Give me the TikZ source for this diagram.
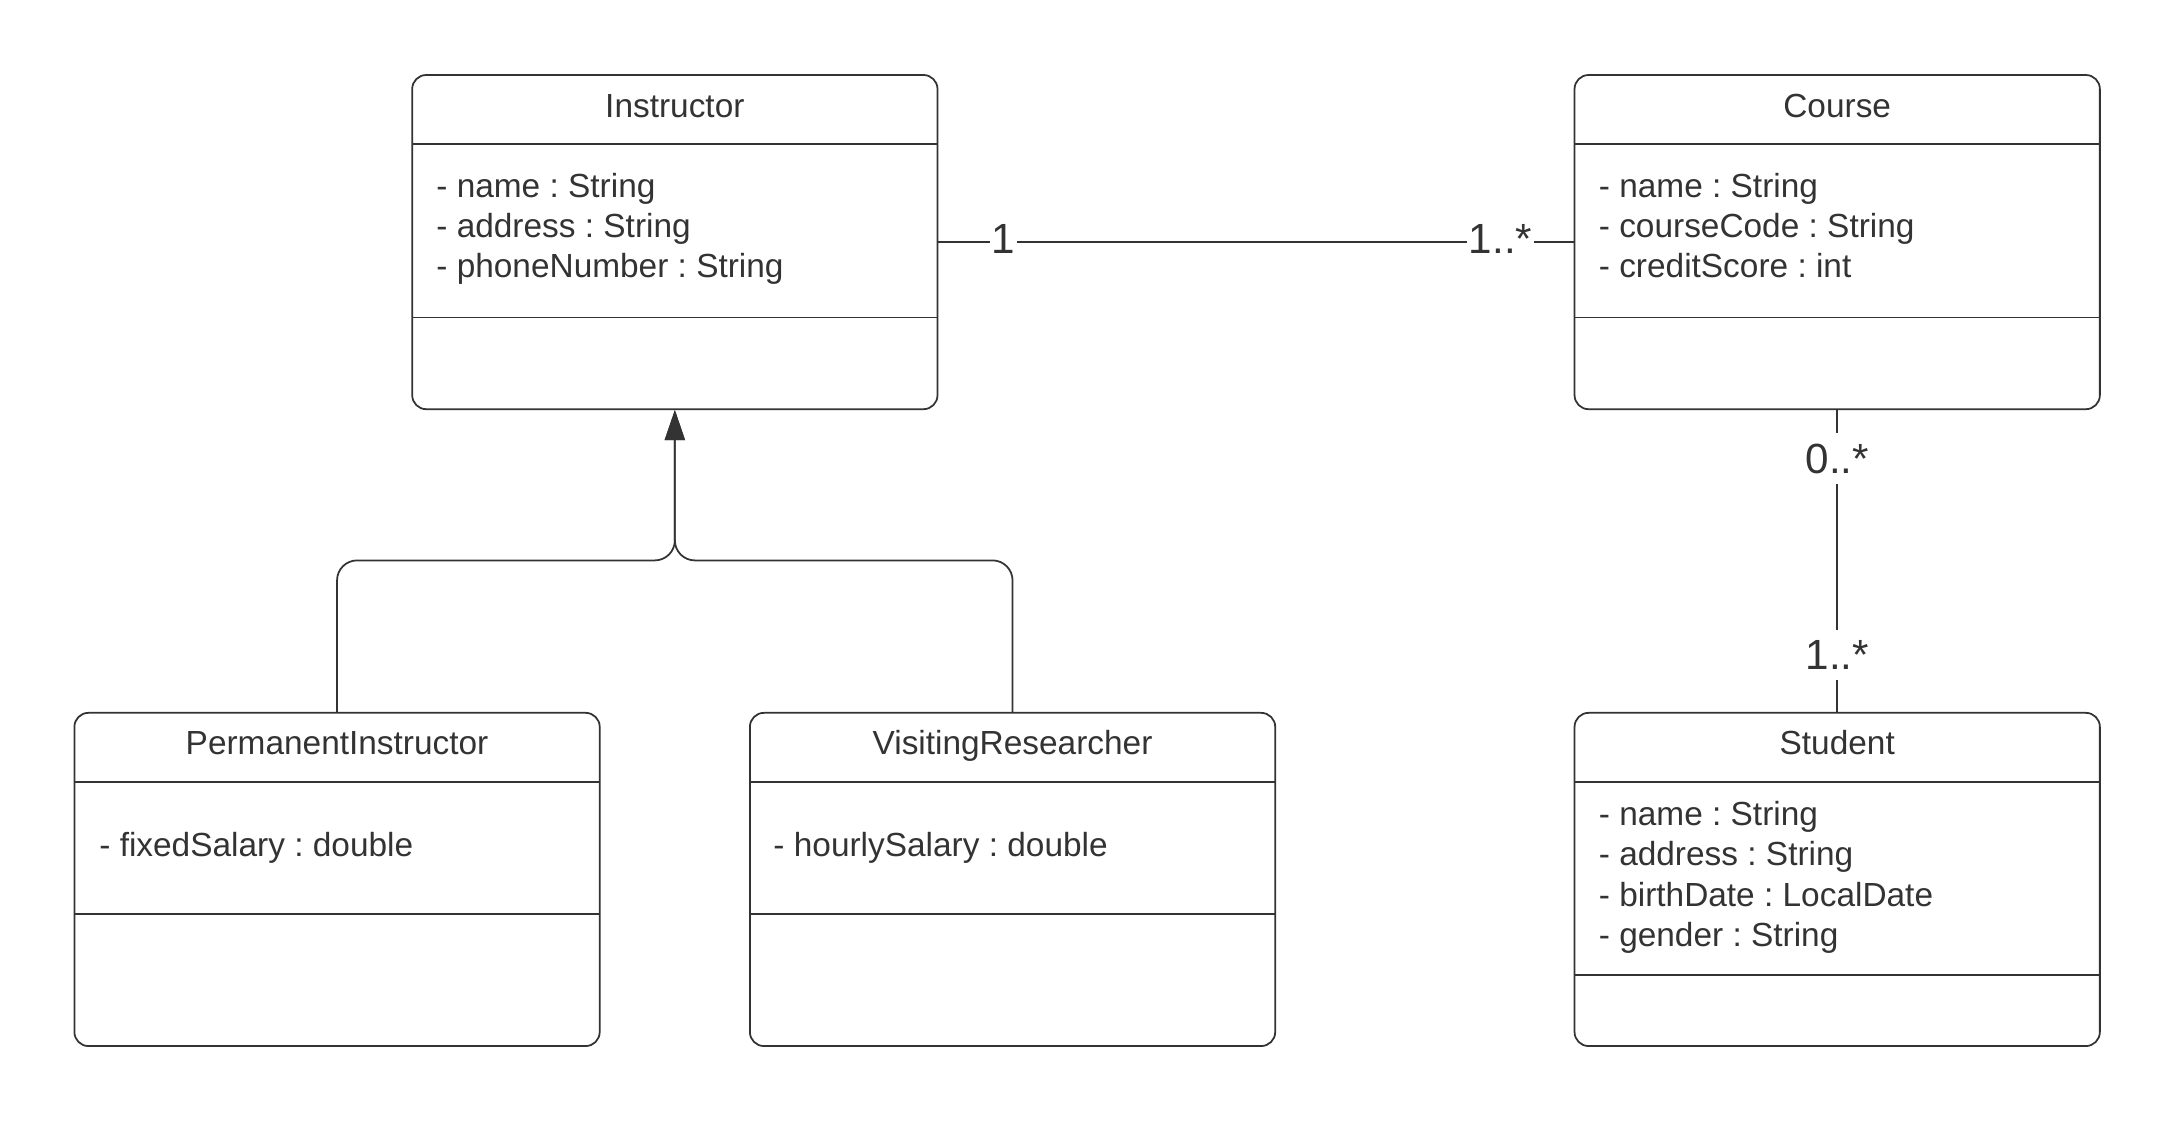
\documentclass[tikz,border=0pt]{standalone}
\usepackage{fontspec}
\setmainfont{Liberation Sans}
\usetikzlibrary{arrows.meta}
\definecolor{ink}{HTML}{333333}
\frenchspacing
\begin{document}
\frenchspacing
\begin{tikzpicture}[x=0.01cm,y=-0.01cm,line width=0.5pt,color=ink,
  cls/.style={draw=ink,rounded corners=0.14cm,minimum width=5.25cm,minimum height=3.34cm,inner sep=0pt},
  clsb/.style={cls,minimum height=3.33cm},
  ttl/.style={font=\fontsize{9.5}{11.4}\selectfont,anchor=base,inner sep=0pt},
  attr/.style={font=\fontsize{9.5}{11.4}\selectfont,anchor=base west,inner sep=0pt},
  mult/.style={font=\fontsize{12}{14}\selectfont,fill=white,inner xsep=0.5pt,inner ysep=3pt},
  gen/.style={rounded corners=0.2cm,-{Triangle[length=0.3cm,width=0.2cm]}}]
\useasboundingbox (0,0) rectangle (2175,1121);
% class boxes
\node[cls] (I) at (674.85,242.1) {};
\node[cls] (C) at (1837.2,242.1) {};
\node[clsb] (P) at (337.05,879.45) {};
\node[clsb] (V) at (1012.55,879.45) {};
\node[clsb] (S) at (1837.2,879.45) {};
% dividers
\draw (412,144.3) -- (937.7,144.3);
\draw (412,317.6) -- (937.7,317.6);
\draw (1574.4,144.3) -- (2100,144.3);
\draw (1574.4,317.6) -- (2100,317.6);
\draw (74.9,782.3) -- (599.2,782.3);
\draw (74.9,914.1) -- (599.2,914.1);
\draw (750.4,782.3) -- (1274.7,782.3);
\draw (750.4,914.1) -- (1274.7,914.1);
\draw (1574.4,782.3) -- (2100,782.3);
\draw (1574.4,975.1) -- (2100,975.1);
% titles
\node[ttl] (It) at (674.85,117.5) {Instructor};
\node[ttl] (Ct) at (1837.2,117.5) {Course};
\node[ttl] (Pt) at (337.05,754) {PermanentInstructor};
\node[ttl] (Vt) at (1012.55,754) {VisitingResearcher};
\node[ttl] (St) at (1837.2,754) {Student};
% attributes
\node[attr] (Ia1) at (435.5,197) {- name : String};
\node[attr] (Ia2) at (435.5,237) {- address : String};
\node[attr] (Ia3) at (435.5,277) {- phoneNumber : String};
\node[attr] (Ca1) at (1598,197) {- name : String};
\node[attr] (Ca2) at (1598,237) {- courseCode : String};
\node[attr] (Ca3) at (1598,277) {- creditScore : int};
\node[attr] (Pa1) at (98.5,856) {- fixedSalary : double};
\node[attr] (Va1) at (772.6,856) {- hourlySalary : double};
\node[attr] (Sa1) at (1598,825) {- name : String};
\node[attr] (Sa2) at (1598,865) {- address : String};
\node[attr] (Sa3) at (1598,906) {- birthDate : LocalDate};
\node[attr] (Sa4) at (1598,946) {- gender : String};
% generalization
\coordinate (J) at (674.85,560.4);
\draw[gen] (P.north) |- (J) -- (I.south);
\draw[gen] (V.north) |- (J) -- (I.south);
% associations
\draw (I.east) -- (C.west)
  node[mult,pos=0.102,yshift=0.035cm] (m1) {1}
  node[mult,pos=0.885,yshift=0.035cm] (m2) {1..*};
\draw (C.south) -- (S.north)
  node[mult,pos=0.162] (m3) {0..*}
  node[mult,pos=0.81] (m4) {1..*};
\end{tikzpicture}
\end{document}
